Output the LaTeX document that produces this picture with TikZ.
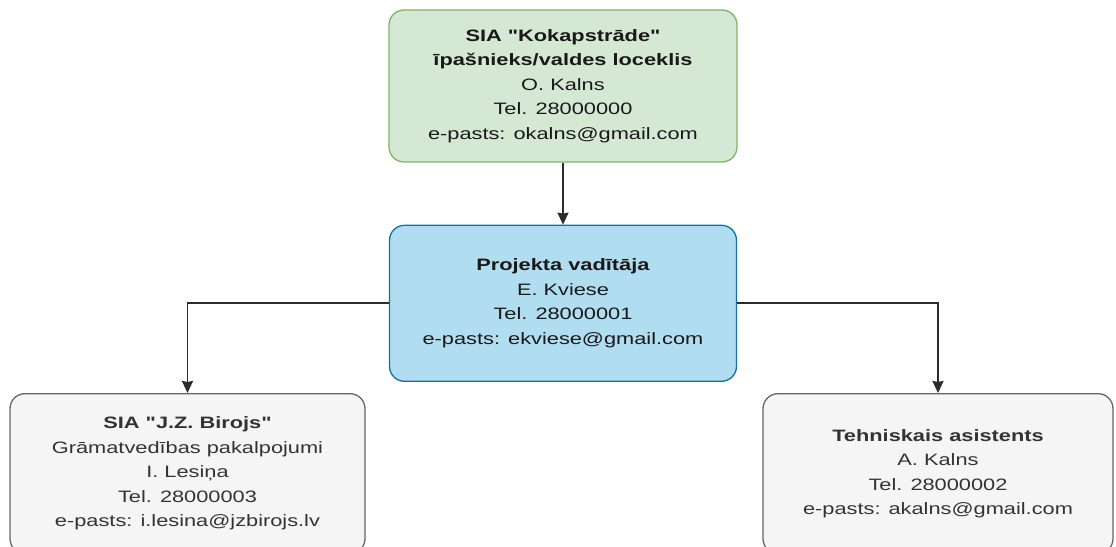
\documentclass[tikz,border=0pt]{standalone}
\usepackage{fontspec}
\setmainfont{Liberation Sans}[FakeStretch=1.32, Ligatures=TeXOff]
\usepackage{tikz}
\usetikzlibrary{arrows.meta, positioning}
\definecolor{ownfill}{HTML}{D5E8D4}
\definecolor{owndraw}{HTML}{82B366}
\definecolor{leadfill}{HTML}{B1DDF0}
\definecolor{leaddraw}{HTML}{10739E}
\definecolor{memfill}{HTML}{F5F5F5}
\definecolor{memdraw}{HTML}{666666}
\definecolor{memtext}{HTML}{333333}
\definecolor{wire}{HTML}{2B2B2B}
\tikzset{basic/.style={draw, rounded corners=15pt, line width=1.3pt, align=center, inner sep=0pt}}
\tikzset{owner/.style={basic, fill=ownfill, draw=owndraw, text=black!90, minimum width=348pt, minimum height=152pt}}
\tikzset{lead/.style={basic, fill=leadfill, draw=leaddraw, text=black!90, minimum width=347pt, minimum height=156pt}}
\tikzset{member/.style={basic, fill=memfill, draw=memdraw, text=memtext, minimum height=160pt}}
\tikzset{>={Stealth[length=12pt,width=11pt,inset=1pt]}, font=\fontsize{16.5}{24.5}\selectfont}
\tikzset{link/.style={->, draw=wire, line width=1.8pt}}

\begin{document}
\begin{tikzpicture}[x=1pt, y=-1pt]

    \useasboundingbox (0,0) rectangle (1116,546);
    \clip (0,0) rectangle (1116,546);

    \node[owner] (owner) at (563,86) {\textbf{SIA "Kokapstrāde"}\\\textbf{īpašnieks/valdes loceklis}\\O. Kalns\\Tel. 28000000\\e-pasts: okalns@gmail.com};
    \node[lead, below=62pt of owner] (lead) {\textbf{Projekta vadītāja}\\E. Kviese\\Tel. 28000001\\e-pasts: ekviese@gmail.com};
    \node[member, minimum width=355pt, anchor=north] (books) at (187.5,393) {\textbf{SIA "J.Z. Birojs"}\\Grāmatvedības pakalpojumi\\I. Lesiņa\\Tel. 28000003\\e-pasts: i.lesina@jzbirojs.lv};
    \node[member, minimum width=350pt, anchor=north] (tech) at (938,393) {\textbf{Tehniskais asistents}\\A. Kalns\\Tel. 28000002\\e-pasts: akalns@gmail.com};

    \draw[link] (owner) -- (lead);
    \draw[link] (lead.west) -| (books.north);
    \draw[link] (lead.east) -| (tech.north);

\end{tikzpicture}
\end{document}
